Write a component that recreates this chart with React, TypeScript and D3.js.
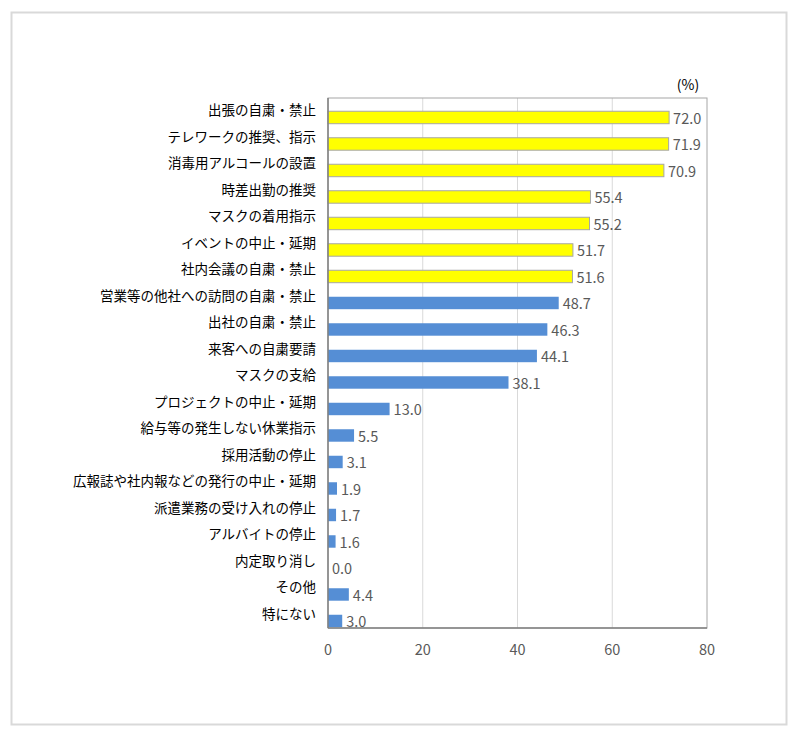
import React from "react";
import * as d3 from "d3";

const categories = [
  "出張の自粛・禁止",
  "テレワークの推奨、指示",
  "消毒用アルコールの設置",
  "時差出勤の推奨",
  "マスクの着用指示",
  "イベントの中止・延期",
  "社内会議の自粛・禁止",
  "営業等の他社への訪問の自粛・禁止",
  "出社の自粛・禁止",
  "来客への自粛要請",
  "マスクの支給",
  "プロジェクトの中止・延期",
  "給与等の発生しない休業指示",
  "採用活動の停止",
  "広報誌や社内報などの発行の中止・延期",
  "派遣業務の受け入れの停止",
  "アルバイトの停止",
  "内定取り消し",
  "その他",
  "特にない",
];
const values = [
  72.0, 71.9, 70.9, 55.4, 55.2, 51.7, 51.6, 48.7, 46.3, 44.1, 38.1, 13.0, 5.5,
  3.1, 1.9, 1.7, 1.6, 0.0, 4.4, 3.0,
];
const highlighted = [true, true, true, true, true, true, true];
const xTicks = [0, 20, 40, 60, 80];

const WIDTH = 800;
const HEIGHT = 738;
const plot = { left: 328, right: 707, top: 98, bottom: 628 };
const FONT = "'Noto Sans CJK JP', 'Noto Sans', sans-serif";

export default function App() {
  const x = d3.scaleLinear().domain([0, 80]).range([plot.left, plot.right]);
  const y = d3
    .scaleBand<number>()
    .domain(d3.range(categories.length))
    .range([plot.top, plot.bottom]);
  const bw = y.bandwidth();

  return (
    <svg
      width={WIDTH}
      height={HEIGHT}
      style={{ position: "absolute", left: 0, top: 0, background: "#fff" }}
      fontFamily={FONT}
    >
      <rect x={11.5} y={12.5} width={775} height={712} fill="#fff" stroke="#d9d9d9" strokeWidth={2} />

      {/* gridlines */}
      {xTicks.slice(1, -1).map((t) => (
        <line key={t} x1={x(t)} x2={x(t)} y1={plot.top} y2={plot.bottom} stroke="#d9d9d9" strokeWidth={1} />
      ))}
      <rect
        x={plot.left}
        y={plot.top}
        width={plot.right - plot.left}
        height={plot.bottom - plot.top}
        fill="none"
        stroke="#a6a6a6"
        strokeWidth={1}
      />

      {/* bars */}
      {values.map((v, i) => {
        const y0 = (y(i) ?? 0) + bw * 0.5;
        const h = bw * 0.47;
        const yellow = highlighted[i] === true;
        return (
          <g key={i}>
            <rect
              x={x(0)}
              y={y0}
              width={Math.max(0, x(v) - x(0))}
              height={h}
              fill={yellow ? "#ffff00" : "#558ed5"}
              stroke={yellow ? "#a6a6a6" : "none"}
              strokeWidth={1}
            />
            <text
              x={x(v) + 4}
              y={y0 + h / 2}
              dominantBaseline="central"
              fontSize={14.5}
              fill="#595959"
            >
              {v.toFixed(1)}
            </text>
          </g>
        );
      })}

      {/* axes */}
      <line x1={plot.left} x2={plot.left} y1={plot.top} y2={plot.bottom} stroke="#808080" strokeWidth={1.5} />
      <line x1={plot.left} x2={plot.right} y1={plot.bottom} y2={plot.bottom} stroke="#808080" strokeWidth={1.5} />

      {/* category labels */}
      {categories.map((c, i) => (
        <text
          key={c}
          x={plot.left - 12}
          y={(y(i) ?? 0) + bw / 2 - 2}
          textAnchor="end"
          dominantBaseline="central"
          fontSize={13.5}
          fill="#000"
        >
          {c}
        </text>
      ))}

      {/* x tick labels */}
      {xTicks.map((t) => (
        <text key={t} x={x(t)} y={648} textAnchor="middle" dominantBaseline="central" fontSize={14.5} fill="#595959">
          {t}
        </text>
      ))}

      <text x={688} y={84} textAnchor="middle" dominantBaseline="central" fontSize={14} fill="#000">
        (%)
      </text>
    </svg>
  );
}
